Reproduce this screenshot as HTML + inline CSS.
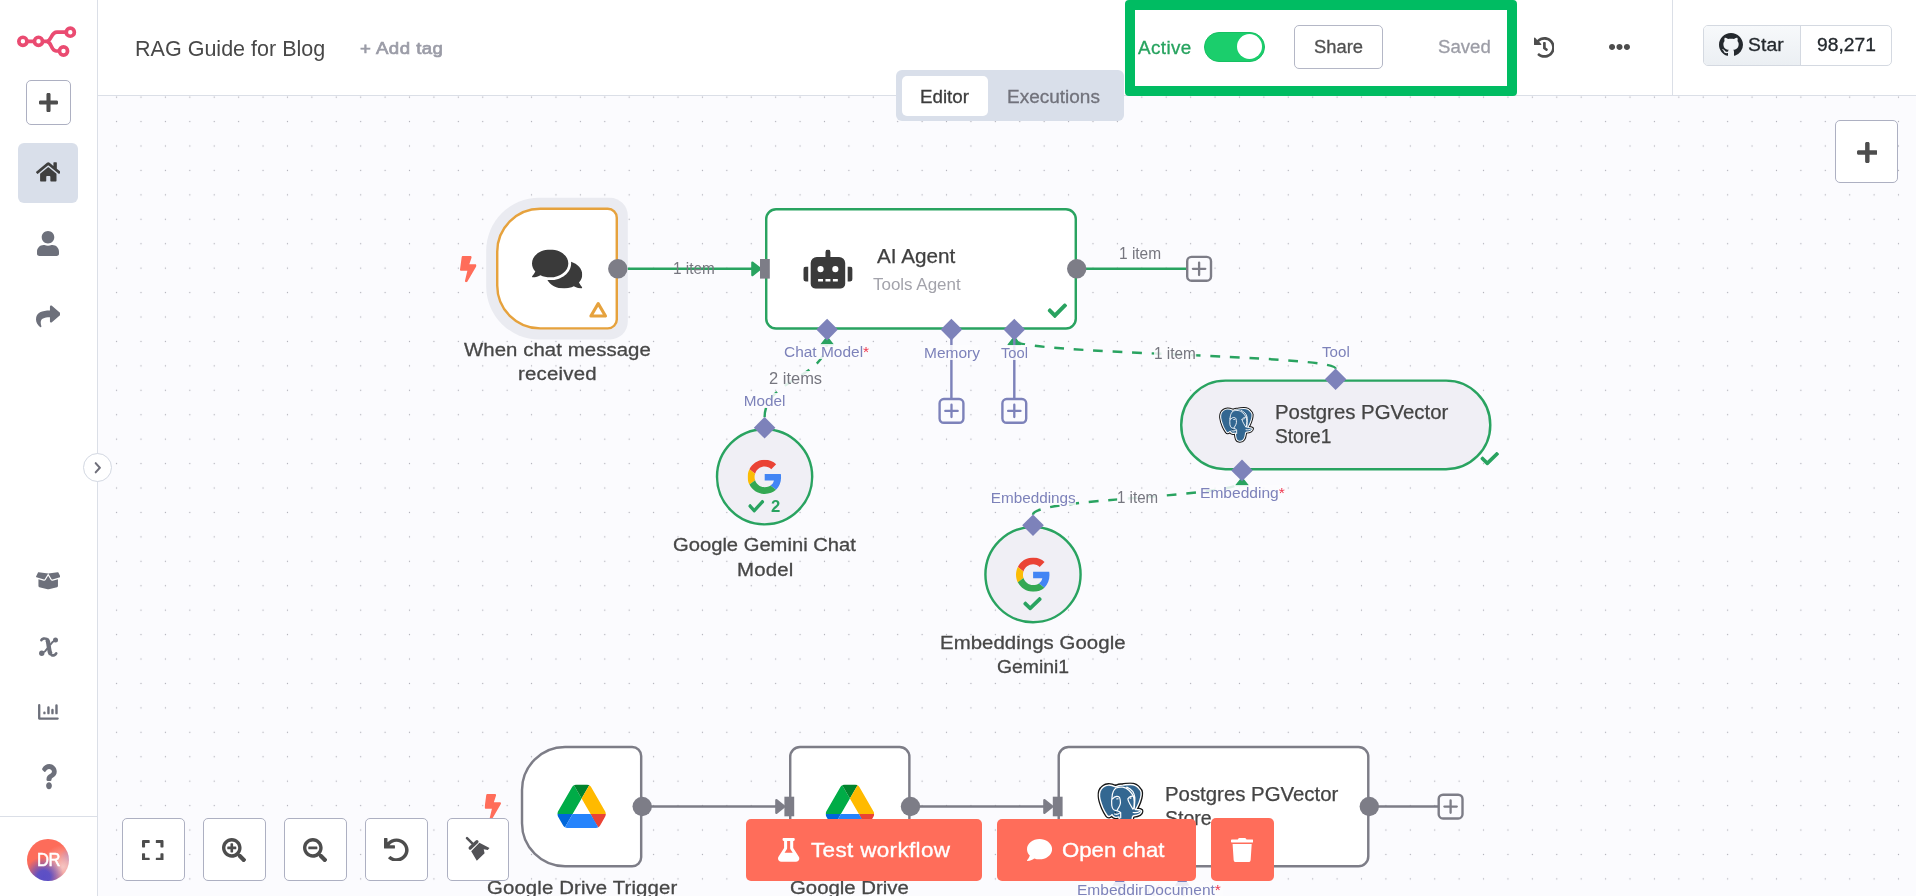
<!DOCTYPE html>
<html lang="en"><head><meta charset="utf-8"><title>RAG Guide for Blog - n8n</title>
<style>
*{box-sizing:border-box}
html,body{margin:0;padding:0}
body{width:1916px;height:896px;overflow:hidden;position:relative;background:#fff;font-family:"Liberation Sans",sans-serif}
#app{position:absolute;left:0;top:0;width:1916px;height:896px;overflow:hidden;will-change:transform}
.t{position:absolute;white-space:nowrap;display:block;transform-origin:0 50%}
.xi{font-family:"DejaVu Math TeX Gyre","DejaVu Serif",serif}
.cbtn{position:absolute;width:62.8px;height:62.5px;background:#fff;border:1px solid #adb0c2;border-radius:5px}
.rbtn{position:absolute;background:#ff6d5a;border-radius:5px}
.hdr{position:absolute;left:98px;top:0;width:1818px;height:96px;background:#fff;border-bottom:1px solid #dbdfe7}
.vdiv{position:absolute;left:1672px;top:0;width:1px;height:95px;background:#dbdfe7}
.tabs{position:absolute;left:896px;top:70px;width:228px;height:51px;background:#d9dfea;border-radius:6px}
.tabact{position:absolute;left:902px;top:76px;width:86px;height:39.500px;background:#fff;border-radius:5px}
.tog{position:absolute;left:1204px;top:32px;width:60.500px;height:30px;border-radius:15px;background:#1bce6c;border:1.500px solid #16c062}
.tog i{position:absolute;left:31.500px;top:1px;width:25px;height:25px;border-radius:50%;background:#fff}
.share{position:absolute;left:1294px;top:25px;width:88.500px;height:44px;border:1px solid #b4b7c6;border-radius:5px;background:#fff}
.gh{position:absolute;left:1703px;top:25px;width:189px;height:40.500px;border:1px solid #d4d9e1;border-radius:5px;background:#fff;overflow:hidden}
.ghl{position:absolute;left:0;top:0;width:97px;height:100%;background:linear-gradient(#f7f9fb,#ebeff3);border-right:1px solid #d4d9e1}
.hl{position:absolute;left:1125px;top:0;width:392px;height:96.25px;border:10px solid #00bc62;border-radius:4px}
.side{position:absolute;left:0;top:0;width:98px;height:896px;background:#fff;border-right:1px solid #dbdfe7}
.homebg{position:absolute;left:18px;top:143px;width:60px;height:60px;border-radius:6px;background:#d9dfea}
.sdiv{position:absolute;left:0;top:816px;width:97px;height:1px;background:#dbdfe7}
.av{position:absolute;left:27px;top:838.8px;width:42px;height:42.2px;border-radius:50%;background:radial-gradient(circle at 40% 90%,#5b4ec6 0%,#5f51c4 14%,rgba(110,80,190,0) 44%),radial-gradient(circle at 86% 66%,#f4c6c4 0%,rgba(244,198,196,0) 48%),radial-gradient(circle at 104% 45%,#9a6fc0 0%,rgba(154,111,192,0) 22%),#fd6c5a}
.coll{position:absolute;left:82.6px;top:453.4px;width:29px;height:29px;border-radius:50%;background:#fff;border:1px solid #d3d8e2}
</style></head>
<body>
<div id="app">
<svg class="cv" width="1916" height="896" viewBox="0 0 1916 896" style="position:absolute;left:0;top:0">
<defs><pattern id="dots" x="6.750" y="-12.800" width="24.41" height="24.43" patternUnits="userSpaceOnUse"><circle cx="12.2" cy="12.2" r="0.64" fill="#adadb6"/></pattern></defs>
<rect x="98" y="96" width="1818" height="800" fill="#fbfbfe"/>
<rect x="98" y="96" width="1818" height="800" fill="url(#dots)"/>
<line x1="618" y1="268.8" x2="752" y2="268.8" stroke="#29a360" stroke-width="2.44" />
<path d="M752.4,262.6 L760.2,268.8 L752.4,275.0 Z" fill="#29a360" stroke="#29a360" stroke-width="2.4" stroke-linejoin="round"/>
<line x1="1077" y1="268.8" x2="1187" y2="268.8" stroke="#29a360" stroke-width="2.44" />
<line x1="642" y1="806.5" x2="776" y2="806.5" stroke="#7d7d87" stroke-width="2.44" />
<path d="M776.4,800.3 L784.2,806.5 L776.4,812.7 Z" fill="#7d7d87" stroke="#7d7d87" stroke-width="2.4" stroke-linejoin="round"/>
<line x1="910.5" y1="806.5" x2="1044" y2="806.5" stroke="#7d7d87" stroke-width="2.44" />
<path d="M1044.4,800.3 L1052.2,806.5 L1044.4,812.7 Z" fill="#7d7d87" stroke="#7d7d87" stroke-width="2.4" stroke-linejoin="round"/>
<line x1="1369.3" y1="806.5" x2="1438" y2="806.5" stroke="#7d7d87" stroke-width="2.44" />
<path d="M764.6,417.3 C764.6,378.7 827.1,378.7 827.1,340.1" fill="none" stroke="#29a360" stroke-width="2.44" stroke-dasharray="9.76 9.76" stroke-dashoffset="0"/>
<path d="M1335.6,368.7 C1335.6,354.4 1014.3,354.4 1014.3,340.1" fill="none" stroke="#29a360" stroke-width="2.44" stroke-dasharray="9.76 9.76" stroke-dashoffset="0"/>
<path d="M1033,514.7 C1033,497.8 1242,497.8 1242,480.9" fill="none" stroke="#29a360" stroke-width="2.44" stroke-dasharray="9.76 9.76" stroke-dashoffset="0"/>
<path d="M821.1,344.70000000000005 L827.1,337.1 L833.1,344.70000000000005 Z" fill="#29a360" stroke="#29a360" stroke-width="1.6" stroke-linejoin="round"/>
<path d="M1008.3,344.70000000000005 L1014.3,337.1 L1020.3,344.70000000000005 Z" fill="#29a360" stroke="#29a360" stroke-width="1.6" stroke-linejoin="round"/>
<path d="M1236,485.5 L1242,477.9 L1248,485.5 Z" fill="#29a360" stroke="#29a360" stroke-width="1.6" stroke-linejoin="round"/>
<line x1="951.4" y1="338" x2="951.4" y2="399" stroke="#7d82ba" stroke-width="2.44" />
<line x1="1014.3" y1="338" x2="1014.3" y2="399" stroke="#7d82ba" stroke-width="2.44" />
<rect x="1187.20" y="256.90" width="23.80" height="23.80" rx="4.3" fill="#fbfbfe" stroke="#7d7d87" stroke-width="2.4"/>
<path d="M1192.90,268.80 H1205.30 M1199.10,262.60 V275.00" stroke="#7d7d87" stroke-width="2.3" stroke-linecap="round"/>
<rect x="1438.70" y="794.70" width="23.80" height="23.80" rx="4.3" fill="#fbfbfe" stroke="#7d7d87" stroke-width="2.4"/>
<path d="M1444.40,806.60 H1456.80 M1450.60,800.40 V812.80" stroke="#7d7d87" stroke-width="2.3" stroke-linecap="round"/>
<path d="M539.00,197.80 H609.98 A17.82,17.82 0 0 1 627.80,215.62 V321.58 A17.82,17.82 0 0 1 609.98,339.40 H539.00 A52.8,52.8 0 0 1 486.20,286.60 V250.60 A52.8,52.8 0 0 1 539.00,197.80 Z" fill="#eaebf1"/>
<path d="M540.22,208.82 H607.78 A9,9 0 0 1 616.78,217.82 V319.38 A9,9 0 0 1 607.78,328.38 H540.22 A43,43 0 0 1 497.22,285.38 V251.82 A43,43 0 0 1 540.22,208.82 Z" fill="#fff" stroke="#e6a23d" stroke-width="2.44"/>
<svg x="532.00" y="249.40" width="50.30" height="39.00" viewBox="0.0 31.5 576.0 447.7" preserveAspectRatio="none"><path fill="#3a3a3a" d="M416 192c0-88.400-93.100-160-208-160S0 103.600 0 192c0 34.300 14.100 65.900 38 92-13.400 30.200-35.500 54.200-35.800 54.500-2.200 2.300-2.800 5.700-1.500 8.700S4.800 352 8 352c36.600 0 66.900-12.300 88.700-25 32.200 15.700 70.300 25 111.300 25 114.900 0 208-71.600 208-160zm122 220c23.900-26 38-57.700 38-92 0-66.900-53.500-124.200-129.300-148.100.9 6.600 1.300 13.300 1.300 20.100 0 105.900-107.700 192-240 192-10.800 0-21.300-.8-31.700-1.900C207.800 439.600 281.800 480 368 480c41 0 79.100-9.200 111.300-25 21.800 12.700 52.100 25 88.700 25 3.200 0 6.100-1.900 7.300-4.800 1.300-2.900.7-6.300-1.500-8.700-.3-.3-22.400-24.200-35.800-54.500z"/></svg>
<svg x="460.00" y="256.10" width="16.50" height="26.20" viewBox="0.0 0.0 320.0 512.0" preserveAspectRatio="none"><path fill="#ff6d5a" d="M296 160H180.6l42.6-129.8C227.2 15 215.700 0 200 0H56C44 0 33.800 8.900 32.200 20.800l-32 240C-1.700 275.200 9.500 288 24 288h118.700L96.600 482.500c-3.600 15.200 8 29.500 23.300 29.500 8.400 0 16.400-4.400 20.800-12l176-304c9.300-15.900-2.200-36-20.700-36z"/></svg>
<path d="M598.2,303.6 L605.5,316 H590.9 Z" fill="none" stroke="#e6a23d" stroke-width="3.1" stroke-linejoin="round"/>
<circle cx="617.8" cy="268.8" r="9.7" fill="#7d7d87"/>
<path d="M776.02,209.22 H1065.98 A9.8,9.8 0 0 1 1075.78,219.02 V318.78 A9.8,9.8 0 0 1 1065.98,328.58 H776.02 A9.8,9.8 0 0 1 766.22,318.78 V219.02 A9.8,9.8 0 0 1 776.02,209.22 Z" fill="#fff" stroke="#29a360" stroke-width="2.44"/>
<rect x="760" y="259.0" width="9.8" height="19.6" fill="#7d7d87"/>
<svg x="803.30" y="249.60" width="49.30" height="39.20" viewBox="0.0 0.0 640.0 512.5" preserveAspectRatio="none"><path fill="#3a3a3a" d="M32,224H64V416H32A31.96166,31.96166,0,0,1,0,384V256A31.96166,31.96166,0,0,1,32,224Zm512-48V448a64.06328,64.06328,0,0,1-64,64H160a64.06328,64.06328,0,0,1-64-64V176a79.974,79.974,0,0,1,80-80H288V32a32,32,0,0,1,64,0V96H464A79.974,79.974,0,0,1,544,176ZM264,256a40,40,0,1,0-40,40A39.997,39.997,0,0,0,264,256Zm-8,128H192v32h64Zm96,0H288v32h64ZM456,256a40,40,0,1,0-40,40A39.997,39.997,0,0,0,456,256Zm-8,128H384v32h64ZM640,256V384a31.96166,31.96166,0,0,1-32,32H576V224h32A31.96166,31.96166,0,0,1,640,256Z"/></svg>
<svg x="1047.50" y="303.30" width="19.60" height="14.70" viewBox="0.0 66.0 512.0 380.0" preserveAspectRatio="none"><path fill="#29a360" d="M173.898 439.404l-166.4-166.4c-9.997-9.997-9.997-26.206 0-36.204l36.203-36.204c9.997-9.998 26.207-9.998 36.204 0L192 312.69 432.095 72.596c9.997-9.997 26.207-9.997 36.204 0l36.203 36.204c9.997 9.997 9.997 26.206 0 36.204l-294.4 294.401c-9.998 9.997-26.207 9.997-36.204-.001z"/></svg>
<circle cx="1076.7" cy="268.8" r="9.7" fill="#7d7d87"/>
<path d="M827.1,318.8 L837.9,329.6 L827.1,340.40000000000003 L816.3000000000001,329.6 Z" fill="#7d82ba"/>
<path d="M951.4,318.8 L962.1999999999999,329.6 L951.4,340.40000000000003 L940.6,329.6 Z" fill="#7d82ba"/>
<path d="M1014.3,318.8 L1025.1,329.6 L1014.3,340.40000000000003 L1003.5,329.6 Z" fill="#7d82ba"/>
<circle cx="764.6" cy="476.8" r="47.58" fill="#f0eff5" stroke="#29a360" stroke-width="2.44"/>
<svg x="747.6" y="459.8" width="34.2" height="34.2" viewBox="0 0 48 48"><path fill="#EA4335" d="M24 9.5c3.54 0 6.71 1.22 9.21 3.6l6.85-6.85C35.9 2.38 30.47 0 24 0 14.62 0 6.51 5.38 2.56 13.22l7.98 6.19C12.43 13.72 17.74 9.5 24 9.500z"/><path fill="#4285F4" d="M46.98 24.55c0-1.57-.15-3.09-.38-4.55H24v9.020h12.940c-.58 2.96-2.26 5.480-4.780 7.180l7.730 6c4.510-4.180 7.090-10.360 7.090-17.650z"/><path fill="#FBBC05" d="M10.53 28.59c-.48-1.45-.76-2.99-.76-4.590s.27-3.140.76-4.590l-7.980-6.190C.92 16.460 0 20.120 0 24c0 3.880.92 7.540 2.560 10.780l7.970-6.190z"/><path fill="#34A853" d="M24 48c6.480 0 11.930-2.130 15.890-5.810l-7.730-6c-2.150 1.450-4.920 2.300-8.160 2.300-6.260 0-11.570-4.220-13.470-9.910l-7.980 6.190C6.510 42.620 14.620 48 24 48z"/></svg>
<svg x="748.20" y="499.80" width="16.10" height="12.90" viewBox="0.0 66.0 512.0 380.0" preserveAspectRatio="none"><path fill="#29a360" d="M173.898 439.404l-166.4-166.4c-9.997-9.997-9.997-26.206 0-36.204l36.203-36.204c9.997-9.998 26.207-9.998 36.204 0L192 312.69 432.095 72.596c9.997-9.997 26.207-9.997 36.204 0l36.203 36.204c9.997 9.997 9.997 26.206 0 36.204l-294.4 294.401c-9.998 9.997-26.207 9.997-36.204-.001z"/></svg>
<path d="M764.6,417.0 L775.4,427.8 L764.6,438.6 L753.8000000000001,427.8 Z" fill="#7d82ba"/>
<circle cx="1033" cy="574.6" r="47.58" fill="#f0eff5" stroke="#29a360" stroke-width="2.44"/>
<svg x="1016" y="557.6" width="34.2" height="34.2" viewBox="0 0 48 48"><path fill="#EA4335" d="M24 9.5c3.54 0 6.71 1.22 9.21 3.6l6.85-6.85C35.9 2.38 30.47 0 24 0 14.62 0 6.51 5.38 2.56 13.22l7.98 6.19C12.43 13.72 17.74 9.5 24 9.500z"/><path fill="#4285F4" d="M46.98 24.55c0-1.57-.15-3.09-.38-4.55H24v9.020h12.940c-.58 2.96-2.26 5.480-4.780 7.180l7.730 6c4.510-4.180 7.090-10.360 7.090-17.650z"/><path fill="#FBBC05" d="M10.53 28.59c-.48-1.45-.76-2.99-.76-4.590s.27-3.140.76-4.590l-7.980-6.190C.92 16.460 0 20.120 0 24c0 3.880.92 7.540 2.560 10.780l7.970-6.190z"/><path fill="#34A853" d="M24 48c6.480 0 11.930-2.130 15.890-5.810l-7.730-6c-2.150 1.450-4.920 2.300-8.160 2.300-6.260 0-11.570-4.220-13.470-9.910l-7.980 6.190C6.510 42.620 14.620 48 24 48z"/></svg>
<svg x="1023.20" y="597.10" width="18.60" height="13.40" viewBox="0.0 66.0 512.0 380.0" preserveAspectRatio="none"><path fill="#29a360" d="M173.898 439.404l-166.4-166.4c-9.997-9.997-9.997-26.206 0-36.204l36.203-36.204c9.997-9.998 26.207-9.998 36.204 0L192 312.69 432.095 72.596c9.997-9.997 26.207-9.997 36.204 0l36.203 36.204c9.997 9.997 9.997 26.206 0 36.204l-294.4 294.401c-9.998 9.997-26.207 9.997-36.204-.001z"/></svg>
<path d="M1033,514.4000000000001 L1043.8,525.2 L1033,536.0 L1022.2,525.2 Z" fill="#7d82ba"/>
<rect x="1181.22" y="380.62" width="309.06" height="88.56" rx="44.28" fill="#f0eff5" stroke="#29a360" stroke-width="2.44"/>
<path d="M1335.6,368.4 L1346.3999999999999,379.2 L1335.6,390.0 L1324.8,379.2 Z" fill="#7d82ba"/>
<path d="M1242,459.59999999999997 L1252.8,470.4 L1242,481.2 L1231.2,470.4 Z" fill="#7d82ba"/>
<svg x="1480.30" y="452.00" width="18.70" height="13.50" viewBox="0.0 66.0 512.0 380.0" preserveAspectRatio="none"><path fill="#29a360" d="M173.898 439.404l-166.4-166.4c-9.997-9.997-9.997-26.206 0-36.204l36.203-36.204c9.997-9.998 26.207-9.998 36.204 0L192 312.69 432.095 72.596c9.997-9.997 26.207-9.997 36.204 0l36.203 36.204c9.997 9.997 9.997 26.206 0 36.204l-294.4 294.401c-9.998 9.997-26.207 9.997-36.204-.001z"/></svg>
<svg x="1219" y="406.9" width="34.9" height="36" viewBox="-4.75 -4.75 109.5 112.5" preserveAspectRatio="none"><g stroke-linejoin="round" stroke-linecap="round"><path d="M21.7,1.8 C28,1.5 33,3.5 38.5,6 C43,3.5 49,2 55.4,1.8 C61,1.5 67,0.3 73.5,0.4 C82,0.5 90,4 94,10.2 C97,13 98.8,16 98.8,18.7 C99.5,23 98.5,28 97.6,32 C96,38 94,44 91.6,48.8 C90,52.5 88,56 85.5,59.6 C89,59.5 94,59.3 97.6,60.8 C99.5,61.5 100.3,63 99.8,64.5 C99.3,67 97.5,69 95.2,70.5 C91.5,72.7 86.5,73.7 82,74 C80.5,74.2 79,75.5 78.3,77.7 C77.5,84 77,90 73,96.5 C70,101.5 64,103 59.6,102.7 C54.5,102.3 51.5,100 50,96.5 C48,91 47.3,86 47,81 L46.5,77 C44,78 40,78.3 36.5,77.5 C34,77 32,75 30,71.7 C28,73.5 25.5,75.5 22.9,75.9 C21,76.2 19.5,75 18,72.9 C14,67.5 11,62 8.4,56 C5,47.5 1.5,38 0.6,29.5 C0.2,25 0.6,20 1.8,16.3 C3.3,12 6,8.5 9.6,6 C13,3.5 17,2 21.7,1.8 Z" fill="#336791" stroke="#161616" stroke-width="9.500"/><path d="M21.7,1.8 C28,1.5 33,3.5 38.5,6 C43,3.5 49,2 55.4,1.8 C61,1.5 67,0.3 73.5,0.4 C82,0.5 90,4 94,10.2 C97,13 98.8,16 98.8,18.7 C99.5,23 98.5,28 97.6,32 C96,38 94,44 91.6,48.8 C90,52.5 88,56 85.5,59.6 C89,59.5 94,59.3 97.6,60.8 C99.5,61.5 100.3,63 99.8,64.5 C99.3,67 97.5,69 95.2,70.5 C91.5,72.7 86.5,73.7 82,74 C80.5,74.2 79,75.5 78.3,77.7 C77.5,84 77,90 73,96.5 C70,101.5 64,103 59.6,102.7 C54.5,102.3 51.5,100 50,96.5 C48,91 47.3,86 47,81 L46.5,77 C44,78 40,78.3 36.5,77.5 C34,77 32,75 30,71.7 C28,73.5 25.5,75.5 22.9,75.9 C21,76.2 19.5,75 18,72.9 C14,67.5 11,62 8.4,56 C5,47.5 1.5,38 0.6,29.5 C0.2,25 0.6,20 1.8,16.3 C3.3,12 6,8.5 9.6,6 C13,3.5 17,2 21.7,1.8 Z" fill="#336791" stroke="#fff" stroke-width="3.300"/><path d="M36,66 L40,64.500 L38,68 Z" fill="#161616"/><path d="M30,31 C30.5,25 31.5,20 33.5,16 C35,12.5 37,10 39.5,8.5 C44,6.3 50,6.2 55.4,6.6 C61,7.2 66,10 69.9,13.9 C74,18 77.5,22 79.5,25.9 C81.5,30.5 82.5,35.5 82.5,40.4 C82.5,46 82,52 81.3,57.2 M30,31 C29,37 28.8,44 29.5,50 C30,54 31.5,57.5 33.7,59.6 C35.5,61.2 38,61.800 41,62 C45,63 48.5,64.5 50.6,66.9 L50.6,79 M31.3,34.3 C34,31 37.5,28.8 41,28.3 C44,28 47,29 48.2,31.9 C49.5,35.5 50.2,40 50,44 C49.5,48 48,51.5 45.8,54.8 C44.5,57 43.3,59 42.2,60.8 M67.5,34.3 C69.5,31 72,29.2 74.7,28.3 C77,27.5 79.5,27.1 81.9,27.1 M67.5,34.3 C68,38.5 70,42.5 72.3,46.4 C74.5,50.5 77,54.5 79.5,58.4 M65,6.6 C71,9 76,13 79.5,17.5 C82,21.5 83.5,26 84,30.7 C84.5,38 83.5,48 82.5,58 M80,66.5 C86,67.5 92,66.5 96.5,63.5 M36,70 C40,71.5 45,70.5 48,68 M41.500,34.500 L44.500,34 M73,33 L75,32.200" fill="none" stroke="#fff" stroke-width="2.800"/></g></svg>
<path d="M565.02,747.02 H632.18 A9,9 0 0 1 641.18,756.02 V857.18 A9,9 0 0 1 632.18,866.18 H565.02 A43,43 0 0 1 522.02,823.18 V790.02 A43,43 0 0 1 565.02,747.02 Z" fill="#fff" stroke="#7d7d87" stroke-width="2.44"/>
<svg x="557.3" y="784.6" width="48.6" height="43.4" viewBox="0 0 87.3 78" preserveAspectRatio="none"><path d="m6.6 66.85 3.85 6.65c.8 1.4 1.95 2.5 3.3 3.3l13.750-23.800h-27.500c0 1.550.4 3.100 1.200 4.500z" fill="#0066da"/><path d="m43.650 25-13.750-23.800c-1.350.8-2.500 1.900-3.300 3.300l-25.400 44a9.060 9.060 0 0 0 -1.200 4.500h27.500z" fill="#00ac47"/><path d="m73.550 76.800c1.350-.8 2.500-1.900 3.300-3.300l1.600-2.750 7.650-13.250c.8-1.400 1.200-2.950 1.200-4.500h-27.502l5.852 11.500z" fill="#ea4335"/><path d="m43.650 25 13.750-23.800c-1.350-.8-2.900-1.200-4.500-1.200h-18.500c-1.600 0-3.150.45-4.500 1.200z" fill="#00832d"/><path d="m59.800 53h-32.300l-13.750 23.800c1.350.8 2.900 1.200 4.500 1.200h50.800c1.600 0 3.150-.45 4.500-1.200z" fill="#2684fc"/><path d="m73.400 26.500-12.700-22c-.8-1.400-1.950-2.500-3.300-3.300l-13.750 23.800 16.150 28h27.450c0-1.550-.4-3.100-1.200-4.500z" fill="#ffba00"/></svg>
<svg x="484.60" y="794.00" width="16.40" height="26.20" viewBox="0.0 0.0 320.0 512.0" preserveAspectRatio="none"><path fill="#ff6d5a" d="M296 160H180.6l42.6-129.8C227.2 15 215.700 0 200 0H56C44 0 33.800 8.900 32.200 20.800l-32 240C-1.700 275.200 9.500 288 24 288h118.700L96.600 482.500c-3.600 15.200 8 29.500 23.300 29.500 8.400 0 16.400-4.400 20.800-12l176-304c9.300-15.900-2.200-36-20.700-36z"/></svg>
<circle cx="642.2" cy="806.5" r="9.7" fill="#7d7d87"/>
<path d="M800.02,747.02 H899.58 A9.8,9.8 0 0 1 909.38,756.82 V856.38 A9.8,9.8 0 0 1 899.58,866.18 H800.02 A9.8,9.8 0 0 1 790.22,856.38 V756.82 A9.8,9.8 0 0 1 800.02,747.02 Z" fill="#fff" stroke="#7d7d87" stroke-width="2.44"/>
<rect x="784.4" y="796.7" width="9.8" height="19.6" fill="#7d7d87"/>
<svg x="825.6" y="784.6" width="48.6" height="43.4" viewBox="0 0 87.3 78" preserveAspectRatio="none"><path d="m6.6 66.85 3.85 6.65c.8 1.4 1.95 2.5 3.3 3.3l13.750-23.800h-27.500c0 1.550.4 3.100 1.200 4.500z" fill="#0066da"/><path d="m43.650 25-13.750-23.800c-1.350.8-2.500 1.900-3.300 3.300l-25.400 44a9.060 9.060 0 0 0 -1.200 4.500h27.500z" fill="#00ac47"/><path d="m73.550 76.800c1.350-.8 2.500-1.900 3.300-3.300l1.600-2.750 7.650-13.250c.8-1.400 1.200-2.950 1.200-4.500h-27.502l5.852 11.500z" fill="#ea4335"/><path d="m43.650 25 13.750-23.800c-1.350-.8-2.900-1.200-4.500-1.200h-18.500c-1.600 0-3.150.45-4.500 1.200z" fill="#00832d"/><path d="m59.800 53h-32.300l-13.750 23.800c1.350.8 2.900 1.200 4.500 1.200h50.800c1.600 0 3.150-.45 4.500-1.200z" fill="#2684fc"/><path d="m73.400 26.500-12.700-22c-.8-1.400-1.950-2.500-3.300-3.300l-13.750 23.800 16.150 28h27.450c0-1.550-.4-3.100-1.200-4.500z" fill="#ffba00"/></svg>
<circle cx="910.5" cy="806.5" r="9.7" fill="#7d7d87"/>
<path d="M1068.52,747.02 H1358.48 A9.8,9.8 0 0 1 1368.28,756.82 V856.38 A9.8,9.8 0 0 1 1358.48,866.18 H1068.52 A9.8,9.8 0 0 1 1058.72,856.38 V756.82 A9.8,9.8 0 0 1 1068.52,747.02 Z" fill="#fff" stroke="#7d7d87" stroke-width="2.44"/>
<rect x="1052.8" y="796.7" width="9.8" height="19.6" fill="#7d7d87"/>
<svg x="1097.3" y="782.3" width="46.3" height="47.7" viewBox="-4.75 -4.75 109.5 112.5" preserveAspectRatio="none"><g stroke-linejoin="round" stroke-linecap="round"><path d="M21.7,1.8 C28,1.5 33,3.5 38.5,6 C43,3.5 49,2 55.4,1.8 C61,1.5 67,0.3 73.5,0.4 C82,0.5 90,4 94,10.2 C97,13 98.8,16 98.8,18.7 C99.5,23 98.5,28 97.6,32 C96,38 94,44 91.6,48.8 C90,52.5 88,56 85.5,59.6 C89,59.5 94,59.3 97.6,60.8 C99.5,61.5 100.3,63 99.8,64.5 C99.3,67 97.5,69 95.2,70.5 C91.5,72.7 86.5,73.7 82,74 C80.5,74.2 79,75.5 78.3,77.7 C77.5,84 77,90 73,96.5 C70,101.5 64,103 59.6,102.7 C54.5,102.3 51.5,100 50,96.5 C48,91 47.3,86 47,81 L46.5,77 C44,78 40,78.3 36.5,77.5 C34,77 32,75 30,71.7 C28,73.5 25.5,75.5 22.9,75.9 C21,76.2 19.5,75 18,72.9 C14,67.5 11,62 8.4,56 C5,47.5 1.5,38 0.6,29.5 C0.2,25 0.6,20 1.8,16.3 C3.3,12 6,8.5 9.6,6 C13,3.5 17,2 21.7,1.8 Z" fill="#336791" stroke="#161616" stroke-width="9.500"/><path d="M21.7,1.8 C28,1.5 33,3.5 38.5,6 C43,3.5 49,2 55.4,1.8 C61,1.5 67,0.3 73.5,0.4 C82,0.5 90,4 94,10.2 C97,13 98.8,16 98.8,18.7 C99.5,23 98.5,28 97.6,32 C96,38 94,44 91.6,48.8 C90,52.5 88,56 85.5,59.6 C89,59.5 94,59.3 97.6,60.8 C99.5,61.5 100.3,63 99.8,64.5 C99.3,67 97.5,69 95.2,70.5 C91.5,72.7 86.5,73.7 82,74 C80.5,74.2 79,75.5 78.3,77.7 C77.5,84 77,90 73,96.5 C70,101.5 64,103 59.6,102.7 C54.5,102.3 51.5,100 50,96.5 C48,91 47.3,86 47,81 L46.5,77 C44,78 40,78.3 36.5,77.5 C34,77 32,75 30,71.7 C28,73.5 25.5,75.5 22.9,75.9 C21,76.2 19.5,75 18,72.9 C14,67.5 11,62 8.4,56 C5,47.5 1.5,38 0.6,29.5 C0.2,25 0.6,20 1.8,16.3 C3.3,12 6,8.5 9.6,6 C13,3.5 17,2 21.7,1.8 Z" fill="#336791" stroke="#fff" stroke-width="3.300"/><path d="M36,66 L40,64.500 L38,68 Z" fill="#161616"/><path d="M30,31 C30.5,25 31.5,20 33.5,16 C35,12.5 37,10 39.5,8.5 C44,6.3 50,6.2 55.4,6.6 C61,7.2 66,10 69.9,13.9 C74,18 77.5,22 79.5,25.9 C81.5,30.5 82.5,35.5 82.5,40.4 C82.5,46 82,52 81.3,57.2 M30,31 C29,37 28.8,44 29.5,50 C30,54 31.5,57.5 33.7,59.6 C35.5,61.2 38,61.800 41,62 C45,63 48.5,64.5 50.6,66.9 L50.6,79 M31.3,34.3 C34,31 37.5,28.8 41,28.3 C44,28 47,29 48.2,31.9 C49.5,35.5 50.2,40 50,44 C49.5,48 48,51.5 45.8,54.8 C44.5,57 43.3,59 42.2,60.8 M67.5,34.3 C69.5,31 72,29.2 74.7,28.3 C77,27.5 79.5,27.1 81.9,27.1 M67.5,34.3 C68,38.5 70,42.5 72.3,46.4 C74.5,50.5 77,54.5 79.5,58.4 M65,6.6 C71,9 76,13 79.5,17.5 C82,21.5 83.5,26 84,30.7 C84.5,38 83.5,48 82.5,58 M80,66.5 C86,67.5 92,66.5 96.5,63.5 M36,70 C40,71.5 45,70.5 48,68 M41.500,34.500 L44.500,34 M73,33 L75,32.200" fill="none" stroke="#fff" stroke-width="2.800"/></g></svg>
<circle cx="1369.3" cy="806.5" r="9.7" fill="#7d7d87"/>
<path d="M1119.7,856.2 L1130.5,867 L1119.7,877.8 L1108.9,867 Z" fill="#7d82ba"/>
<path d="M1183,856.2 L1193.8,867 L1183,877.8 L1172.2,867 Z" fill="#7d82ba"/>
<line x1="1119.7" y1="877" x2="1119.7" y2="896" stroke="#7d82ba" stroke-width="2.44" />
<line x1="1183" y1="877" x2="1183" y2="896" stroke="#7d82ba" stroke-width="2.44" />
<path d="M1112.3,885.8 L1119.7,874.4 L1127.1000000000001,885.8 Z" fill="#7d82ba"/>
<path d="M1174.8,885.8 L1182.2,874.4 L1189.6000000000001,885.8 Z" fill="#7d82ba"/>
</svg>
<span class="t " style="left:672.80px;top:258.00px;font-size:16px;line-height:21px;letter-spacing:0.000px;color:#76767f;transform:scaleX(0.9593);">1 item</span>
<span class="t " style="left:1119.30px;top:243.00px;font-size:16px;line-height:21px;letter-spacing:0.000px;color:#76767f;transform:scaleX(0.9662);">1 item</span>
<span class="t " style="left:463.80px;top:337.50px;font-size:18.7px;line-height:24px;letter-spacing:0.063px;color:#474747;transform:scaleX(1.0900);-webkit-text-stroke:0.3px #474747;">When chat message</span>
<span class="t " style="left:517.80px;top:361.50px;font-size:18.7px;line-height:24px;letter-spacing:0.204px;color:#474747;transform:scaleX(1.0900);-webkit-text-stroke:0.3px #474747;">received</span>
<span class="t " style="left:877.40px;top:243.50px;font-size:19.4px;line-height:25px;letter-spacing:0.000px;color:#3f3f3f;transform:scaleX(1.0661);-webkit-text-stroke:0.25px #3f3f3f;">AI Agent</span>
<span class="t " style="left:873.00px;top:274.00px;font-size:16px;line-height:21px;letter-spacing:0.000px;color:#a3a3ab;transform:scaleX(1.0601);">Tools Agent</span>
<span class="t " style="left:784.30px;top:344.00px;font-size:15.3px;line-height:15px;letter-spacing:0.000px;color:#7d82ba;transform:scaleX(1.0107);background:rgba(251,251,254,0.86);">Chat Model<span style="color:#f0384f">*</span></span>
<span class="t " style="left:923.70px;top:345.00px;font-size:15.3px;line-height:15px;letter-spacing:-0.000px;color:#7d82ba;transform:scaleX(1.0117);background:rgba(251,251,254,0.86);">Memory</span>
<span class="t " style="left:1001.30px;top:345.00px;font-size:15.3px;line-height:15px;letter-spacing:0.000px;color:#7d82ba;transform:scaleX(0.9619);background:rgba(251,251,254,0.86);">Tool</span>
<span class="t " style="left:769.20px;top:370.50px;font-size:16px;line-height:16px;letter-spacing:-0.000px;color:#76767f;transform:scaleX(1.0296);background:rgba(251,251,254,0.86);">2 items</span>
<span class="t " style="left:743.70px;top:393.00px;font-size:15.3px;line-height:15px;letter-spacing:0.000px;color:#7d82ba;background:rgba(251,251,254,0.86);">Model</span>
<span class="t " style="left:1154.00px;top:345.50px;font-size:16px;line-height:16px;letter-spacing:0.000px;color:#76767f;transform:scaleX(0.9593);background:rgba(251,251,254,0.86);">1 item</span>
<span class="t " style="left:1322.20px;top:344.00px;font-size:15.3px;line-height:15px;letter-spacing:0.000px;color:#7d82ba;transform:scaleX(0.9904);background:rgba(251,251,254,0.86);">Tool</span>
<span class="t " style="left:990.70px;top:490.00px;font-size:15.3px;line-height:15px;letter-spacing:0.000px;color:#7d82ba;background:rgba(251,251,254,0.86);">Embeddings</span>
<span class="t " style="left:1116.70px;top:489.50px;font-size:16px;line-height:16px;letter-spacing:0.000px;color:#76767f;transform:scaleX(0.9433);background:rgba(251,251,254,0.86);">1 item</span>
<span class="t " style="left:1199.50px;top:485.00px;font-size:15.3px;line-height:15px;letter-spacing:0.000px;color:#7d82ba;transform:scaleX(1.0173);background:rgba(251,251,254,0.86);">Embedding<span style="color:#f0384f">*</span></span>
<span class="t " style="left:1275.00px;top:399.50px;font-size:19.4px;line-height:25px;letter-spacing:0.000px;color:#444;transform:scaleX(1.0510);-webkit-text-stroke:0.25px #444;">Postgres PGVector</span>
<span class="t " style="left:1275.00px;top:423.50px;font-size:19.4px;line-height:25px;letter-spacing:0.000px;color:#444;transform:scaleX(0.9867);-webkit-text-stroke:0.25px #444;">Store1</span>
<span class="t " style="left:771.00px;top:496.50px;font-size:15.6px;line-height:20px;letter-spacing:0.296px;color:#29a360;transform:scaleX(1.0700);font-weight:700;">2</span>
<span class="t " style="left:673.40px;top:532.50px;font-size:18.7px;line-height:24px;letter-spacing:0.000px;color:#474747;transform:scaleX(1.0801);-webkit-text-stroke:0.3px #474747;">Google Gemini Chat</span>
<span class="t " style="left:736.60px;top:557.50px;font-size:18.7px;line-height:24px;letter-spacing:0.156px;color:#474747;transform:scaleX(1.0900);-webkit-text-stroke:0.3px #474747;">Model</span>
<span class="t " style="left:940.00px;top:630.50px;font-size:18.7px;line-height:24px;letter-spacing:0.057px;color:#474747;transform:scaleX(1.0900);-webkit-text-stroke:0.3px #474747;">Embeddings Google</span>
<span class="t " style="left:997.10px;top:654.50px;font-size:18.7px;line-height:24px;letter-spacing:0.000px;color:#474747;transform:scaleX(1.0368);-webkit-text-stroke:0.3px #474747;">Gemini1</span>
<span class="t " style="left:486.50px;top:875.50px;font-size:18.7px;line-height:24px;letter-spacing:0.108px;color:#474747;transform:scaleX(1.0900);-webkit-text-stroke:0.3px #474747;">Google Drive Trigger</span>
<span class="t " style="left:790.40px;top:875.50px;font-size:18.7px;line-height:24px;letter-spacing:0.000px;color:#474747;transform:scaleX(1.0886);-webkit-text-stroke:0.3px #474747;">Google Drive</span>
<span class="t " style="left:1165.30px;top:781.50px;font-size:19.4px;line-height:25px;letter-spacing:0.000px;color:#444;transform:scaleX(1.0510);-webkit-text-stroke:0.25px #444;">Postgres PGVector</span>
<span class="t " style="left:1165.30px;top:805.50px;font-size:19.4px;line-height:25px;letter-spacing:0.000px;color:#444;transform:scaleX(1.0071);-webkit-text-stroke:0.25px #444;">Store</span>
<span class="t " style="left:1077.30px;top:882.00px;font-size:15.3px;line-height:15px;letter-spacing:0.000px;color:#7d82ba;transform:scaleX(1.0161);background:rgba(251,251,254,0.86);">Embedding<span style="color:#f0384f">*</span></span>
<span class="t " style="left:1143.30px;top:882.00px;font-size:15.3px;line-height:15px;letter-spacing:0.000px;color:#7d82ba;transform:scaleX(1.0160);background:rgba(251,251,254,0.86);padding:0 1px;">Document<span style="color:#f0384f">*</span></span>
<svg class="cv2" width="1916" height="896" viewBox="0 0 1916 896" style="position:absolute;left:0;top:0">
<rect x="939.60" y="399.00" width="23.80" height="23.80" rx="4.3" fill="#fbfbfe" stroke="#7d82ba" stroke-width="2.4"/>
<path d="M945.30,410.90 H957.70 M951.50,404.70 V417.10" stroke="#7d82ba" stroke-width="2.3" stroke-linecap="round"/>
<rect x="1002.40" y="399.00" width="23.80" height="23.80" rx="4.3" fill="#fbfbfe" stroke="#7d82ba" stroke-width="2.4"/>
<path d="M1008.10,410.90 H1020.50 M1014.30,404.70 V417.10" stroke="#7d82ba" stroke-width="2.3" stroke-linecap="round"/>
</svg>
<div class="cbtn" style="left:122.20px;top:818.2px"></div>
<svg style="position:absolute;left:142.40px;top:839.50px" width="21.50" height="20.80" viewBox="0.0 32.0 448.0 448.0" preserveAspectRatio="none"><path fill="#4d4d4d" d="M0 180V56c0-13.3 10.7-24 24-24h124c6.600 0 12 5.400 12 12v40c0 6.600-5.400 12-12 12H64v84c0 6.600-5.400 12-12 12H12c-6.600 0-12-5.400-12-12zM288 44v40c0 6.600 5.400 12 12 12h84v84c0 6.600 5.400 12 12 12h40c6.600 0 12-5.400 12-12V56c0-13.300-10.700-24-24-24H300c-6.600 0-12 5.400-12 12zm148 276h-40c-6.600 0-12 5.400-12 12v84h-84c-6.600 0-12 5.400-12 12v40c0 6.600 5.400 12 12 12h124c13.300 0 24-10.700 24-24V332c0-6.600-5.400-12-12-12zM160 468v-40c0-6.600-5.400-12-12-12H64v-84c0-6.600-5.400-12-12-12H12c-6.600 0-12 5.400-12 12v124c0 13.300 10.700 24 24 24h124c6.600 0 12-5.400 12-12z"/></svg>
<div class="cbtn" style="left:203.28px;top:818.2px"></div>
<svg style="position:absolute;left:222.20px;top:837.70px" width="24.10" height="24.30" viewBox="0.0 0.0 512.0 512.0" preserveAspectRatio="none"><path fill="#4d4d4d" d="M304 192v32c0 6.600-5.400 12-12 12h-56v56c0 6.600-5.400 12-12 12h-32c-6.600 0-12-5.400-12-12v-56h-56c-6.600 0-12-5.400-12-12v-32c0-6.600 5.400-12 12-12h56v-56c0-6.600 5.400-12 12-12h32c6.600 0 12 5.400 12 12v56h56c6.600 0 12 5.400 12 12zm201 284.700L476.700 505c-9.400 9.400-24.600 9.400-33.900 0L343 405.300c-4.500-4.500-7-10.600-7-17V372c-35.300 27.600-79.700 44-128 44C93.100 416 0 322.900 0 208S93.100 0 208 0s208 93.100 208 208c0 48.300-16.400 92.700-44 128h16.300c6.400 0 12.500 2.500 17 7l99.700 99.700c9.300 9.400 9.300 24.600 0 34zM344 208c0-75.200-60.800-136-136-136S72 132.800 72 208s60.800 136 136 136 136-60.800 136-136z"/></svg>
<div class="cbtn" style="left:284.36px;top:818.2px"></div>
<svg style="position:absolute;left:303.10px;top:837.70px" width="24.20" height="24.30" viewBox="0.0 0.0 512.0 512.0" preserveAspectRatio="none"><path fill="#4d4d4d" d="M304 192v32c0 6.600-5.400 12-12 12H124c-6.600 0-12-5.400-12-12v-32c0-6.600 5.400-12 12-12h168c6.600 0 12 5.400 12 12zm201 284.700L476.700 505c-9.400 9.400-24.600 9.400-33.900 0L343 405.300c-4.500-4.500-7-10.600-7-17V372c-35.300 27.600-79.700 44-128 44C93.100 416 0 322.900 0 208S93.100 0 208 0s208 93.100 208 208c0 48.300-16.400 92.700-44 128h16.300c6.400 0 12.500 2.500 17 7l99.700 99.700c9.300 9.400 9.300 24.600 0 34zM344 208c0-75.200-60.800-136-136-136S72 132.800 72 208s60.800 136 136 136 136-60.800 136-136z"/></svg>
<div class="cbtn" style="left:365.44px;top:818.2px"></div>
<svg style="position:absolute;left:384.00px;top:837.70px" width="24.60" height="23.70" viewBox="0.0 0.0 504.0 504.0" preserveAspectRatio="none"><path fill="#4d4d4d" d="M212.333 224.333H12c-6.627 0-12-5.373-12-12V12C0 5.373 5.373 0 12 0h48c6.627 0 12 5.373 12 12v78.112C117.773 39.279 184.26 7.47 258.175 8.007c136.906.994 246.448 111.623 246.157 248.532C504.041 393.258 393.12 504 256.333 504c-64.089 0-122.496-24.313-166.51-64.215-5.099-4.622-5.334-12.554-.467-17.42l33.967-33.967c4.474-4.474 11.662-4.717 16.401-.525C170.76 415.336 211.58 432 256.333 432c97.268 0 176-78.716 176-176 0-97.267-78.716-176-176-176-58.496 0-110.28 28.476-142.274 72.333h98.274c6.627 0 12 5.373 12 12v48c0 6.627-5.373 12-12 12z"/></svg>
<div class="cbtn" style="left:446.52px;top:818.2px"></div>
<svg style="position:absolute;left:455px;top:828px" width="45" height="42" viewBox="0 0 45 42"><path d="M12,10.100 L18.300,16.400" stroke="#525256" stroke-width="2.500" stroke-linecap="round"/><path d="M15.200,20 L21.900,13.700" stroke="#525256" stroke-width="3.300" stroke-linecap="round"/><path d="M16.200,23.200 L24.400,14.800 L34.500,19.900 L32.800,21.900 L28.700,21.200 L29.600,25.300 L21.800,32.800 Z" fill="#525256"/></svg>
<div class="cbtn" style="left:1835.3px;top:120.2px;width:62.6px;height:62.8px"></div>
<svg style="position:absolute;left:1856.50px;top:141.80px" width="20.70" height="21.00" viewBox="0.0 32.0 448.0 448.0" preserveAspectRatio="none"><path fill="#4d4d4d" d="M416 208H272V64c0-17.67-14.33-32-32-32h-32c-17.67 0-32 14.33-32 32v144H32c-17.67 0-32 14.33-32 32v32c0 17.67 14.33 32 32 32h144v144c0 17.67 14.33 32 32 32h32c17.67 0 32-14.33 32-32V304h144c17.67 0 32-14.33 32-32v-32c0-17.67-14.33-32-32-32z"/></svg>
<div class="rbtn" style="left:746px;top:819px;width:236px;height:62px"></div>
<svg style="position:absolute;left:778.40px;top:838.30px" width="21.30" height="23.70" viewBox="0.0 0.0 448.0 512.0" preserveAspectRatio="none"><path fill="#fff" d="M437.2 403.5L320 215V64h8c13.3 0 24-10.7 24-24V24c0-13.300-10.700-24-24-24H120c-13.300 0-24 10.700-24 24v16c0 13.300 10.700 24 24 24h8v151L10.800 403.500C-18.500 450.600 15.300 512 70.900 512h306.200c55.700 0 89.400-61.500 60.100-108.500zM137.900 320l48.200-77.600c3.700-5.200 5.800-11.600 5.800-18.400V64h64v160c0 6.900 2.200 13.200 5.800 18.400l48.200 77.600h-172z"/></svg>
<span class="t " style="left:811.30px;top:836.00px;font-size:21px;line-height:27px;letter-spacing:0.323px;color:#fff;transform:scaleX(1.0700);-webkit-text-stroke:0.35px #fff;">Test workflow</span>
<div class="rbtn" style="left:997px;top:819px;width:199px;height:62px"></div>
<svg style="position:absolute;left:1027.20px;top:839.30px" width="25.10" height="21.90" viewBox="0.0 32.0 512.0 448.0" preserveAspectRatio="none"><path fill="#fff" d="M256 32C114.600 32 0 125.100 0 240c0 49.600 21.400 95 57 130.700C44.500 421.100 2.700 466 2.200 466.500c-2.200 2.300-2.800 5.700-1.500 8.700S4.800 480 8 480c66.300 0 116-31.800 140.600-51.400 32.700 12.300 69 19.400 107.400 19.400 141.400 0 256-93.100 256-208S397.400 32 256 32z"/></svg>
<span class="t " style="left:1062.00px;top:836.00px;font-size:21px;line-height:27px;letter-spacing:-0.000px;color:#fff;transform:scaleX(1.0568);-webkit-text-stroke:0.35px #fff;">Open chat</span>
<div class="rbtn" style="left:1211.3px;top:818px;width:63px;height:63px"></div>
<svg style="position:absolute;left:1231.00px;top:837.80px" width="22.30" height="24.20" viewBox="0.0 0.0 448.0 512.0" preserveAspectRatio="none"><path fill="#fff" d="M432 32H312l-9.400-18.700A24 24 0 0 0 281.100 0H166.800a23.72 23.72 0 0 0-21.400 13.300L136 32H16A16 16 0 0 0 0 48v32a16 16 0 0 0 16 16h416a16 16 0 0 0 16-16V48a16 16 0 0 0-16-16zM53.200 467a48 48 0 0 0 47.900 45h245.800a48 48 0 0 0 47.900-45L416 128H32z"/></svg>
<div class="hdr"></div>
<span class="t " style="left:134.70px;top:35.00px;font-size:21.3px;line-height:28px;letter-spacing:0.000px;color:#484848;transform:scaleX(1.0109);">RAG Guide for Blog</span>
<span class="t " style="left:360.00px;top:36.50px;font-size:17.4px;line-height:23px;letter-spacing:0.444px;color:#9b9ca7;transform:scaleX(1.0700);-webkit-text-stroke:0.7px #9b9ca7;">+ Add tag</span>
<div class="vdiv"></div>
<div class="tabs"></div><div class="tabact"></div>
<span class="t " style="left:920.30px;top:85.50px;font-size:18px;line-height:23px;letter-spacing:0.000px;color:#3c3c3c;transform:scaleX(1.0420);-webkit-text-stroke:0.3px #3c3c3c;">Editor</span>
<span class="t " style="left:1006.50px;top:85.50px;font-size:18px;line-height:23px;letter-spacing:0.000px;color:#71727b;transform:scaleX(1.0551);-webkit-text-stroke:0.3px #71727b;">Executions</span>
<span class="t " style="left:1138.40px;top:36.50px;font-size:17.6px;line-height:23px;letter-spacing:0.377px;color:#27a35f;transform:scaleX(1.0700);-webkit-text-stroke:0.3px #27a35f;">Active</span>
<div class="tog"><i></i></div>
<div class="share"></div>
<span class="t " style="left:1313.70px;top:35.50px;font-size:18px;line-height:23px;letter-spacing:-0.000px;color:#505050;transform:scaleX(1.0201);-webkit-text-stroke:0.3px #505050;">Share</span>
<span class="t " style="left:1437.60px;top:35.50px;font-size:18px;line-height:23px;letter-spacing:0.000px;color:#9c9da6;transform:scaleX(1.0345);-webkit-text-stroke:0.3px #9c9da6;">Saved</span>
<svg style="position:absolute;left:1533.50px;top:36.80px" width="20.80" height="20.80" viewBox="8.0 8.0 496.0 496.0" preserveAspectRatio="none"><path fill="#4d4d4d" d="M504 255.531c.253 136.64-111.18 248.372-247.82 248.468-59.015.042-113.223-20.53-155.822-54.911-11.077-8.94-11.905-25.541-1.839-35.607l11.267-11.267c8.609-8.609 22.353-9.551 31.891-1.984C173.062 425.135 212.781 440 256 440c101.705 0 184-82.311 184-184 0-101.705-82.311-184-184-184-48.814 0-93.149 18.969-126.068 49.932l50.754 50.754c10.08 10.08 2.941 27.314-11.313 27.314H24c-8.837 0-16-7.163-16-16V38.627c0-14.254 17.234-21.393 27.314-11.314l49.372 49.372C129.209 34.136 189.552 8 256 8c136.81 0 247.747 110.78 248 247.531zm-180.912 78.784l9.823-12.63c8.138-10.463 6.253-25.542-4.21-33.679L288 256.349V152c0-13.255-10.745-24-24-24h-16c-13.255 0-24 10.745-24 24v135.651l65.409 50.874c10.463 8.137 25.541 6.253 33.679-4.21z"/></svg>
<svg style="position:absolute;left:1608.60px;top:44.40px" width="21.00" height="5.90" viewBox="8.0 184.0 496.0 144.0" preserveAspectRatio="none"><path fill="#4d4d4d" d="M328 256c0 39.8-32.2 72-72 72s-72-32.2-72-72 32.2-72 72-72 72 32.2 72 72zm104-72c-39.8 0-72 32.2-72 72s32.2 72 72 72 72-32.2 72-72-32.2-72-72-72zm-352 0c-39.8 0-72 32.2-72 72s32.200 72 72 72 72-32.200 72-72-32.200-72-72-72z"/></svg>
<div class="gh"><div class="ghl"></div></div>
<svg style="position:absolute;left:1718.80px;top:33.00px" width="24.00" height="23.40" viewBox="0 0 16 16" preserveAspectRatio="none"><path fill="#24292e" d="M8 0C3.58 0 0 3.58 0 8c0 3.54 2.29 6.53 5.47 7.59.4.07.55-.17.55-.38 0-.19-.01-.82-.01-1.49-2.01.37-2.53-.49-2.69-.94-.09-.23-.48-.94-.82-1.13-.28-.15-.68-.52-.01-.53.63-.01 1.08.58 1.23.82.72 1.21 1.87.87 2.33.66.07-.52.28-.87.51-1.07-1.78-.2-3.64-.89-3.64-3.95 0-.87.31-1.59.82-2.15-.08-.2-.36-1.02.08-2.12 0 0 .67-.21 2.2.82.64-.18 1.32-.27 2-.27.68 0 1.36.09 2 .27 1.53-1.04 2.2-.82 2.2-.82.44 1.1.16 1.92.08 2.12.51.56.82 1.27.82 2.15 0 3.07-1.87 3.75-3.65 3.95.29.25.54.73.54 1.48 0 1.07-.01 1.93-.01 2.2 0 .21.15.46.55.38A8.013 8.013 0 0 0 16 8c0-4.42-3.58-8-8-8z"/></svg>
<span class="t " style="left:1748.40px;top:33.50px;font-size:18px;line-height:23px;letter-spacing:0.086px;color:#24292e;transform:scaleX(1.0700);-webkit-text-stroke:0.3px #24292e;">Star</span>
<span class="t " style="left:1816.50px;top:33.50px;font-size:18px;line-height:23px;letter-spacing:0.000px;color:#24292e;transform:scaleX(1.0698);-webkit-text-stroke:0.3px #24292e;">98,271</span>
<div class="hl"></div>
<div class="side"></div>
<svg style="position:absolute;left:14px;top:22px" width="66" height="40" viewBox="14 22 66 40" fill="none" stroke="#ea4b71" stroke-width="3.700"><circle cx="22.900" cy="41.300" r="4.050"/><circle cx="38.500" cy="41.300" r="4.050"/><circle cx="70.300" cy="32.200" r="4.050"/><circle cx="63.500" cy="51" r="4.050"/><path d="M26.950,41.300 H34.450 M42.550,41.300 H46.500 C52,41.300 50.500,32.200 57,32.200 H66.250 M46.500,41.300 C52,41.300 50.500,51 56,51 H59.450"/></svg>
<div class="cbtn" style="left:26.2px;top:80px;width:44.8px;height:45px"></div>
<svg style="position:absolute;left:39.00px;top:93.00px" width="19.00" height="19.00" viewBox="0.0 32.0 448.0 448.0" preserveAspectRatio="none"><path fill="#4d4d4d" d="M416 208H272V64c0-17.67-14.33-32-32-32h-32c-17.67 0-32 14.33-32 32v144H32c-17.67 0-32 14.33-32 32v32c0 17.67 14.33 32 32 32h144v144c0 17.67 14.33 32 32 32h32c17.67 0 32-14.33 32-32V304h144c17.67 0 32-14.33 32-32v-32c0-17.67-14.33-32-32-32z"/></svg>
<div class="homebg"></div>
<svg style="position:absolute;left:35.80px;top:160.60px" width="24.60" height="21.80" viewBox="0 0 576 512" preserveAspectRatio="none"><path fill="#3f3f3f" d="M280.37 148.26L96 300.11V464a16 16 0 0 0 16 16l112.06-.29a16 16 0 0 0 15.92-16V368a16 16 0 0 1 16-16h64a16 16 0 0 1 16 16v95.64a16 16 0 0 0 16 16.05L464 480a16 16 0 0 0 16-16V300L295.67 148.26a12.19 12.19 0 0 0-15.3 0zM571.6 251.47L488 182.56V44.05a12 12 0 0 0-12-12h-56a12 12 0 0 0-12 12v72.61L318.47 43a48 48 0 0 0-61 0L4.34 251.47a12 12 0 0 0-1.6 16.9l25.5 31A12 12 0 0 0 45.15 301l235.22-193.74a12.19 12.19 0 0 1 15.3 0L530.9 301a12 12 0 0 0 16.9-1.6l25.5-31a12 12 0 0 0-1.7-16.93z"/></svg>
<svg style="position:absolute;left:37.00px;top:231.00px" width="22.00" height="25.00" viewBox="0 0 448 512" preserveAspectRatio="none"><path fill="#6d707b" d="M224 256c70.7 0 128-57.3 128-128S294.7 0 224 0 96 57.3 96 128s57.3 128 128 128zm89.6 32h-16.7c-22.2 10.2-46.9 16-72.9 16s-50.6-5.8-72.9-16h-16.7C60.2 288 0 348.2 0 422.4V464c0 26.5 21.5 48 48 48h352c26.5 0 48-21.5 48-48v-41.6c0-74.2-60.2-134.4-134.4-134.4z"/></svg>
<svg style="position:absolute;left:35.50px;top:303.80px" width="24.80" height="24.80" viewBox="0 0 512 512" preserveAspectRatio="none"><path fill="#6d707b" d="M503.691 189.836L327.687 37.851C312.281 24.546 288 35.347 288 56.015v80.053C127.371 137.907 0 170.1 0 322.326c0 61.441 39.581 122.309 83.333 154.132 13.653 9.931 33.111-2.533 28.077-18.631C66.066 312.814 132.917 274.316 288 272.085V360c0 20.7 24.3 31.453 39.687 18.164l176.004-152c11.071-9.562 11.086-26.753 0-36.328z"/></svg>
<svg style="position:absolute;left:36.00px;top:571.20px" width="24.40" height="19.50" viewBox="0 0 640 512" preserveAspectRatio="none"><path fill="#6d707b" d="M425.7 256c-16.9 0-32.8-9-41.4-23.4L320 126l-64.2 106.6c-8.7 14.5-24.6 23.5-41.500 23.500-4.500 0-9-.6-13.3-1.9L64 215v178c0 14.7 10 27.5 24.2 31l216.200 54.100c10.200 2.500 20.900 2.500 31 0L551.800 424c14.200-3.600 24.200-16.400 24.200-31V215l-137 39.100c-4.300 1.300-8.800 1.900-13.300 1.900zm212.600-112.200L586.800 41c-3.100-6.200-9.800-9.800-16.700-8.900L320 64l91.700 152.100c3.800 6.300 11.400 9.300 18.500 7.300l197.900-56.500c9.900-2.900 14.700-13.900 10.200-23.100zM53.200 41L1.700 143.800c-4.600 9.200.3 20.200 10.100 23l197.900 56.500c7.100 2 14.700-1 18.500-7.300L320 64 69.800 32.100c-6.900-.8-13.500 2.700-16.600 8.900z"/></svg>
<svg style="position:absolute;left:28px;top:626px" width="40" height="40" viewBox="0 0 896 896" fill="none" stroke="#6d707b" stroke-linecap="round" stroke-linejoin="round"><path d="M300,318 C312,282 375,270 412,288 C455,305 452,385 464,452 C476,540 478,615 528,650 C568,672 612,648 632,612" stroke-width="60"/><path d="M425,300 C458,345 452,390 464,452 C476,530 478,590 510,632" stroke-width="96" stroke-linecap="butt"/><path d="M505,415 C535,365 565,340 605,322" stroke-width="42"/><path d="M432,505 C405,552 365,588 322,604" stroke-width="42"/><circle cx="616" cy="312" r="56" fill="#6d707b" stroke="none"/><circle cx="308" cy="610" r="60" fill="#6d707b" stroke="none"/></svg>
<svg style="position:absolute;left:28px;top:692px" width="40" height="40" viewBox="0 0 896 896" fill="none" stroke="#6d707b" stroke-linecap="round" stroke-linejoin="round"><path d="M251,296 V596 H664" stroke-width="52"/><path d="M368,462 V474 M458,346 V474 M548,401 V474 M638,304 V474" stroke-width="54"/></svg>
<svg style="position:absolute;left:41.20px;top:764.40px" width="16.00" height="25.20" viewBox="0 0 384 512" preserveAspectRatio="none"><path fill="#6d707b" d="M202.021 0C122.202 0 70.503 32.703 29.914 91.026c-7.363 10.580-5.093 25.086 5.178 32.874l43.138 32.709c10.373 7.865 25.132 6.026 33.253-4.148 25.049-31.381 43.630-49.449 82.757-49.449 30.764 0 68.816 19.799 68.816 49.631 0 22.552-18.617 34.134-48.993 51.164-35.423 19.860-82.299 44.576-82.299 106.405V320c0 13.255 10.745 24 24 24h72.471c13.255 0 24-10.745 24-24v-5.773c0-42.860 125.268-44.645 125.268-160.627C377.504 66.256 286.902 0 202.021 0zM192 373.459c-38.196 0-69.271 31.075-69.271 69.271 0 38.195 31.075 69.270 69.271 69.270s69.271-31.075 69.271-69.271-31.075-69.270-69.271-69.270z"/></svg>
<div class="sdiv"></div>
<div class="av"></div>
<span class="t " style="left:36.60px;top:848.50px;font-size:17.6px;line-height:23px;letter-spacing:-0.527px;color:#fff;transform:scaleX(0.9400);-webkit-text-stroke:0.5px #fff;">DR</span>
<div class="coll"></div>
<svg style="position:absolute;left:93.60px;top:461.00px" width="7.60" height="13.40" viewBox="0 0 320 512" preserveAspectRatio="none"><path fill="#6f6f7a" d="M285.476 272.971L91.132 467.314c-9.373 9.373-24.569 9.373-33.941 0l-22.667-22.667c-9.357-9.357-9.375-24.522-.04-33.901L188.505 256 34.484 101.255c-9.335-9.379-9.317-24.544.04-33.901l22.667-22.667c9.373-9.373 24.569-9.373 33.941 0L285.475 239.03c9.373 9.372 9.373 24.568.001 33.941z"/></svg>
</div>
</body></html>
